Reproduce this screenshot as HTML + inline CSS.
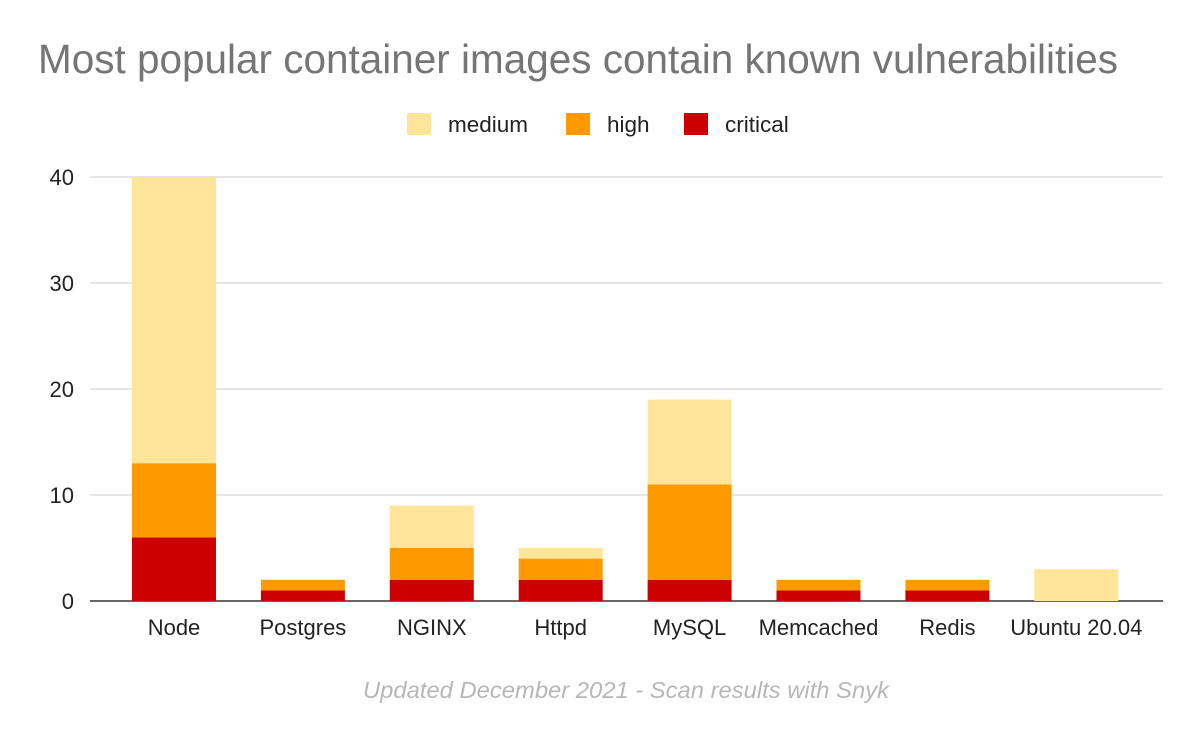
<!DOCTYPE html>
<html><head><meta charset="utf-8">
<style>
body{margin:0;background:#fff;}
svg{display:block;font-family:"Liberation Sans",Arial,sans-serif;}
</style></head>
<body>
<svg id="chart" width="1200" height="742">
<rect width="1200" height="742" fill="#fff"/>
<text x="38" y="73" font-size="40.5" fill="#757575" textLength="1080" lengthAdjust="spacingAndGlyphs">Most popular container images contain known vulnerabilities</text>
<g>
<g><rect x="407" y="113" width="24" height="22" fill="#fee599"/><text x="448" y="132" font-size="22.5" fill="#222">medium</text></g>
<g><rect x="566" y="113" width="24" height="22" fill="#ff9900"/><text x="607" y="132" font-size="22.5" fill="#222">high</text></g>
<g><rect x="684" y="113" width="24" height="22" fill="#cc0000"/><text x="725" y="132" font-size="22.5" fill="#222">critical</text></g>
</g>
<g id="grid"></g>
<g id="bars"></g>
<g id="xlabels"></g>
<text x="626" y="698" font-size="23.5" font-style="italic" fill="#b7b7b7" text-anchor="middle" textLength="526" lengthAdjust="spacingAndGlyphs">Updated December 2021 - Scan results with Snyk</text>
</svg>
<script>
const categories=["Node","Postgres","NGINX","Httpd","MySQL","Memcached","Redis","Ubuntu 20.04"];
const critical=[6,1,2,2,2,1,1,0];
const high=[7,1,3,2,9,1,1,0];
const medium=[27,0,4,1,8,0,0,3];
const yTicks=[0,10,20,30,40];
const NS="http://www.w3.org/2000/svg";
const x0=90,x1=1163,yBase=601,yTop=177,yMax=40;
const y=v=>yBase-(v/yMax)*(yBase-yTop);
const xc=i=>174+i*128.9;
const bw=84;
function mk(tag,attrs,parent){const e=document.createElementNS(NS,tag);for(const k in attrs)e.setAttribute(k,attrs[k]);parent.appendChild(e);return e;}
const grid=document.getElementById('grid');
yTicks.forEach(t=>{
  const l=mk('line',{x1:x0,x2:x1,y1:y(t),y2:y(t),stroke:t===0?'#333':'#ccc','stroke-width':t===0?1.5:1},grid);
  
  
  const tx=mk('text',{x:74,y:y(t)+8,'font-size':22,fill:'#222','text-anchor':'end'},grid);
  tx.textContent=t;
  
  
});
const bars=document.getElementById('bars');
const xl=document.getElementById('xlabels');
categories.forEach((c,i)=>{
  let base=0;
  [[critical,'#cc0000','critical'],[high,'#ff9900','high'],[medium,'#fee599','medium']].forEach(([arr,col,nm])=>{
    const v=arr[i];
    if(v>0){
      const r=mk('rect',{x:xc(i)-bw/2,y:y(base+v),width:bw,height:y(base)-y(base+v),fill:col},bars);
      
      
    }
    base+=v;
  });
  const t=mk('text',{x:xc(i),y:635,'font-size':22,fill:'#222','text-anchor':'middle'},xl);
  t.textContent=c;
  
  
});
</script>
</body></html>
